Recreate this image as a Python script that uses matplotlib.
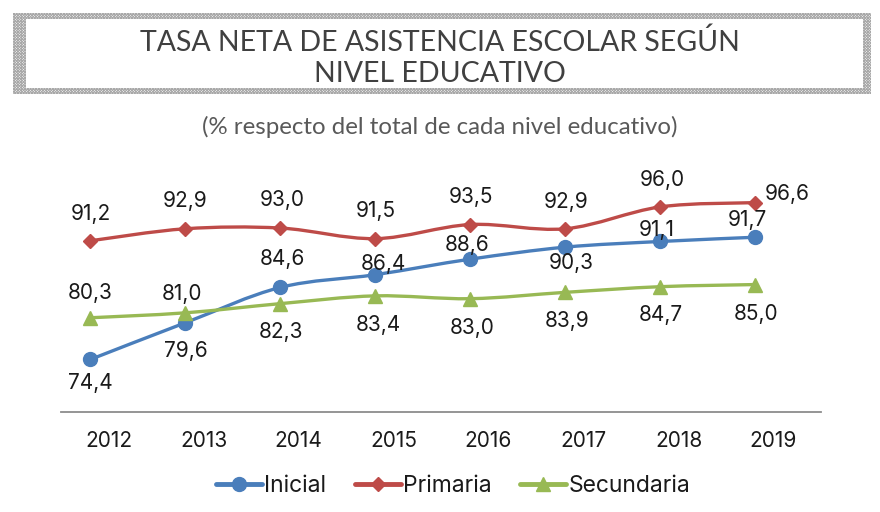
import matplotlib
matplotlib.use("Agg")
import matplotlib.pyplot as plt
from matplotlib.path import Path
from matplotlib.patches import PathPatch, Rectangle
from matplotlib.lines import Line2D

years = ["2012", "2013", "2014", "2015", "2016", "2017", "2018", "2019"]
inicial = [74.4, 79.6, 84.6, 86.4, 88.6, 90.3, 91.1, 91.7]
primaria = [91.2, 92.9, 93.0, 91.5, 93.5, 92.9, 96.0, 96.6]
secundaria = [80.3, 81.0, 82.3, 83.4, 83.0, 83.9, 84.7, 85.0]
series_names = ["Inicial", "Primaria", "Secundaria"]

# label offsets in pixels (style only)
off_inicial = [(0, -24), (0, -28), (2, 28), (8, 11), (-3, 14), (6, -16), (-4, 11), (-8, 17)]
off_primaria = [(0, 27), (0, 28), (2, 28), (0, 28), (1, 28), (1, 27), (2, 27), (32, 9)]
off_secundaria = [(0, 25), (-3, 19), (1, -28), (3, -29), (2, -29), (2, -29), (0, -28), (1, -29)]

W, H = 880, 512
fig = plt.figure(figsize=(W / 100, H / 100), dpi=100)
fig.patch.set_facecolor("white")

FONT = ["Inter", "DejaVu Sans"]
TFONT = ["Lato", "DejaVu Sans"]

def fx(px):
    return px / W

def fy(py):
    return 1 - py / H

# title frame with hatched border
plt.rcParams["hatch.linewidth"] = 0.7
outer = Rectangle((fx(13), fy(94)), fx(871) - fx(13), fy(13) - fy(94), transform=fig.transFigure,
                  facecolor="white", edgecolor="#a8a8a8", hatch="xxxxxxxxxxxx", lw=0)
fig.add_artist(outer)
inner = Rectangle((fx(26), fy(88)), fx(863) - fx(26), fy(18.5) - fy(88), transform=fig.transFigure,
                  facecolor="white", edgecolor="none", lw=0)
fig.add_artist(inner)

fig.text(0.5, fy(57.5), "TASA NETA DE ASISTENCIA ESCOLAR SEGÚN\nNIVEL EDUCATIVO", ha="center", va="center",
         multialignment="center", fontsize=20.5, color="#404040", family=TFONT, linespacing=1.22)
fig.text(0.5, fy(127), "(% respecto del total de cada nivel educativo)", ha="center", va="center",
         fontsize=17.3, color="#595959", family=TFONT)

ax = fig.add_axes([fx(61), fy(411.7), fx(821) - fx(61), fy(150) - fy(411.7)])
ax.set_xlim(-0.31, 7.69)
ax.set_ylim(67.0, 104.05)
ax.set_facecolor("none")
for s in ["top", "right", "left"]:
    ax.spines[s].set_visible(False)
ax.spines["bottom"].set_color("#8c8c8c")
ax.spines["bottom"].set_linewidth(1.3)
ax.set_yticks([])
xs = list(range(len(years)))
ax.set_xticks([x + 0.19 for x in xs])
ax.set_xticklabels(years, family=FONT, fontsize=15, color="#1a1a1a")
ax.tick_params(axis="x", length=0, pad=14)


def smooth_path(x, y):
    n = len(x)
    verts = [(x[0], y[0])]
    codes = [Path.MOVETO]
    for i in range(n - 1):
        x0, y0 = x[max(i - 1, 0)], y[max(i - 1, 0)]
        x1, y1 = x[i], y[i]
        x2, y2 = x[i + 1], y[i + 1]
        x3, y3 = x[min(i + 2, n - 1)], y[min(i + 2, n - 1)]
        verts += [(x1 + (x2 - x0) / 6, y1 + (y2 - y0) / 6),
                  (x2 - (x3 - x1) / 6, y2 - (y3 - y1) / 6),
                  (x2, y2)]
        codes += [Path.CURVE4] * 3
    return Path(verts, codes)


styles = [
    (inicial, "#4a7ebb", "o", 10, off_inicial),
    (primaria, "#be4b48", "D", 7.5, off_primaria),
    (secundaria, "#98b954", "^", 9.5, off_secundaria),
]
handles = []
for (vals, col, mk, ms, offs), name in zip(styles, series_names):
    ax.add_patch(PathPatch(smooth_path(xs, vals), fill=False, edgecolor=col, lw=2.4,
                           capstyle="round", joinstyle="round", zorder=2))
    ax.plot(xs, vals, ls="none", marker=mk, ms=ms, color=col, mec=col, zorder=3)
    for x, v, (dx, dy) in zip(xs, vals, offs):
        ax.annotate(f"{v:.1f}".replace(".", ","), (x, v), xytext=(dx, dy), textcoords="offset pixels",
                    ha="center", va="center", fontsize=15, family=FONT, color="#1a1a1a", zorder=4)
    handles.append(Line2D([], [], color=col, lw=3.5, marker=mk, ms=ms, solid_capstyle="round"))

leg = fig.legend(handles, series_names, loc="center", bbox_to_anchor=(fx(453), fy(486)), ncol=3,
                 frameon=False, prop={"family": FONT, "size": 16.5}, handlelength=2.0,
                 handletextpad=0.1, columnspacing=1.25, borderaxespad=0)
for t in leg.get_texts():
    t.set_color("#1a1a1a")

fig.savefig("out.png", dpi=100, facecolor="white")
